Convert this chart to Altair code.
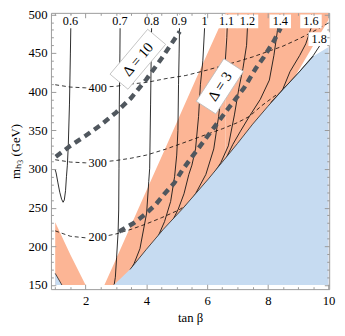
import altair as alt
import pandas as pd

FONT = "Liberation Serif"
PINK = "#FCB595"
BLUE = "#C6DBF1"
FRAME = "#999999"
DELTA_COLOR = "#50575E"

X_DOMAIN = [0.86, 10.02]
Y_DOMAIN = [144.6, 502.0]
W, H = 285, 283
M_BASE = 150
M_TOP = 502

# ---- tick positions (minor + major) ----
x_ticks = [1.0, 1.5, 2.0, 2.5, 3.0, 3.5, 4.0, 4.5, 5.0, 5.5, 6.0, 6.5, 7.0, 7.5, 8.0, 8.5, 9.0, 9.5, 10.0]
y_ticks = list(range(150, 501, 10))

# ---- excluded (blue) region boundary ----
blue_x = [2.93, 3.46, 4.0, 4.56, 5.2, 5.62, 6.04, 6.5, 7.0, 7.5, 8.0, 8.5, 9.0, 9.5, 10.0]
blue_m = [150, 170, 196, 222, 249, 268, 287, 309, 333, 358, 381, 403, 424, 446, 458]
blue_small_x = [1.0, 1.22]
blue_small_m = [165, 150]

# ---- allowed (salmon) band: upper-left edge (rises to the top at tan b = 6.61) ----
pink_x = [2.62, 2.93, 3.46, 4.0, 4.56, 5.2, 5.62, 6.04, 6.5, 6.61]
pink_top = [150, 177, 224, 272, 321, 378, 415, 452, 492, 502]
pink_rect_x = [6.61]
pink_rect_x2 = [10.0]
# white wedge between the band and the blue region (top right)
gap_x = [8.9, 9.5, 10.0]
gap_top = [420, 460, 493]
pink_tri_x = [1.0, 1.5, 2.0]
pink_tri_top = [231, 189, 150]

# ---- solid contours (labels at top) ----
solid = {
    "0.6": ([1.52, 1.50, 1.47, 1.43, 1.40, 1.37, 1.34, 1.30, 1.26, 1.21, 1.15, 1.09, 1.03, 1.00],
            [500, 450, 384, 330, 305, 290, 272, 260, 257, 261, 270, 282, 295, 299]),
    "0.7": ([3.14, 3.13, 3.11, 3.10, 3.09, 3.07, 3.02, 2.98, 2.94],
            [500, 450, 384, 301, 247, 218, 185, 160, 150]),
    "0.8": ([4.18, 4.17, 4.14, 4.11, 4.08, 4.01, 3.79, 3.60, 3.45],
            [500, 475, 384, 301, 284, 243, 197, 178, 167]),
    "0.9": ([5.10, 5.08, 5.06, 5.04, 5.00, 4.93, 4.80, 4.60, 4.40, 4.22],
            [500, 450, 409, 350, 318, 290, 258, 232, 214, 203]),
    "1": ([5.94, 5.92, 5.86, 5.78, 5.72, 5.62, 5.50, 5.40, 5.24, 5.05, 4.85],
          [500, 484, 440, 409, 368, 326, 305, 293, 268, 248, 232]),
    "1.1": ([6.68, 6.65, 6.60, 6.50, 6.38, 6.22, 5.96, 5.62, 5.45],
            [500, 470, 440, 409, 368, 326, 293, 268, 258]),
    "1.2": ([7.35, 7.30, 7.18, 7.05, 6.90, 6.70, 6.45, 6.15],
            [500, 460, 430, 405, 370, 330, 308, 290]),
    "1.4": ([8.40, 8.32, 8.20, 8.05, 7.75, 7.39, 7.10, 6.85, 6.60],
            [500, 480, 447, 415, 390, 368, 349, 332, 312]),
    "1.6": ([9.44, 9.42, 9.25, 9.05, 8.73, 8.48, 8.30],
            [500, 482, 462, 447, 426, 402, 392]),
    "1.8": ([10.0, 9.75, 9.5, 9.0, 8.5, 8.1],
            [472, 462, 447, 424, 403, 386]),
}
solid_label_text = ["0.6", "0.7", "0.8", "0.9", "1.1", "1.2", "1.4", "1.6", "1.8"]
solid_label_x = [1.50, 3.13, 4.17, 5.08, 6.64, 7.33, 8.41, 9.42, 9.69]
solid_label_m = [491, 491, 491, 491, 491, 491, 491, 491, 468]
one_label_x = [5.92]
one_label_m = [491]

# ---- dashed contours ----
dashed = {
    "400": ([1.0, 1.5, 2.0, 2.5, 3.0, 3.5, 4.0, 4.65, 5.3, 6.0, 7.0, 7.5, 8.0, 8.5, 9.0, 9.5, 10.0],
            [409, 406, 405, 406, 407, 410, 412, 417, 421, 428, 439, 445, 452, 459, 468, 478, 489]),
    "300": ([1.0, 1.5, 2.0, 2.5, 3.0, 3.5, 4.0, 4.66, 5.3, 6.0, 6.5, 7.0, 7.39, 7.8, 8.35],
            [312, 309, 308, 309, 311, 314, 318, 326, 335, 345, 352, 360, 368, 382, 398]),
    "200": ([1.0, 1.5, 2.0, 2.5, 3.0, 3.5, 4.0, 4.5, 5.07, 5.5, 5.95],
            [220, 213, 211, 212, 216, 222, 229, 237, 247, 258, 280]),
}
dashed_label_text = ["400", "300", "200"]
dashed_label_x = [2.40, 2.40, 2.40]
dashed_label_m = [405, 308, 212]

# ---- Delta curves ----
delta = {
    "10": ([1.02, 1.5, 2.0, 2.5, 3.0, 3.5, 4.0, 4.5, 5.1],
           [316, 330, 343, 357, 373, 392, 416, 443, 478]),
    "3": ([3.10, 3.58, 3.95, 4.33, 4.60, 4.92, 5.19, 5.51, 6.10, 6.69, 7.22, 7.60, 7.87, 8.19, 8.42],
          [219, 230, 241, 255, 268, 282, 299, 316, 347, 378, 405, 430, 445, 465, 482]),
}
d10_label = {"x": [3.72], "m": [442], "t": ["Δ = 10"]}
d3_label = {"x": [6.42], "m": [407], "t": ["Δ = 3"]}


def long_df(d):
    rows = []
    for name, (xs, ms) in d.items():
        for i, (a, b) in enumerate(zip(xs, ms)):
            rows.append({"name": name, "i": i, "x": a, "m": b})
    return pd.DataFrame(rows)


xaxis = alt.Axis(
    values=x_ticks, title="tan β",
    labelExpr="datum.value % 2 === 0 ? format(datum.value, 'd') : ''",
    labelOverlap=False, labelFlush=False,
    ticks=False, domain=False,
    grid=True, gridColor=FRAME, gridWidth=1, gridOpacity=1,
    gridDash={"condition": {"test": "datum.value % 2 === 0", "value": [5, H - 10, 5, 3000]},
              "value": [2.5, H - 5, 2.5, 3000]},
    labelFont=FONT, labelFontSize=13, labelColor="black", labelPadding=6,
    titleFont=FONT, titleFontSize=13, titleFontWeight="normal", titleColor="black", titlePadding=4,
    zindex=1)
yaxis = alt.Axis(
    values=y_ticks, title="mₕ₃ (GeV)",
    labelExpr="datum.value % 50 === 0 ? format(datum.value, 'd') : ''",
    labelOverlap=False, labelFlush=False,
    ticks=False, domain=False,
    grid=True, gridColor=FRAME, gridWidth=1, gridOpacity=1,
    gridDash={"condition": {"test": "datum.value % 50 === 0", "value": [5, W - 10, 5, 3000]},
              "value": [2.5, W - 5, 2.5, 3000]},
    labelFont=FONT, labelFontSize=13, labelColor="black", labelPadding=4,
    titleFont=FONT, titleFontSize=13, titleFontWeight="normal", titleColor="black", titlePadding=6,
    zindex=1)

X = alt.X("x:Q", scale=alt.Scale(domain=X_DOMAIN, nice=False, zero=False), axis=xaxis)
Y = alt.Y("m:Q", scale=alt.Scale(domain=Y_DOMAIN, nice=False, zero=False), axis=yaxis)


def area(xs, tops, color):
    df = pd.DataFrame({"x": xs, "m": tops, "m2": [M_BASE] * len(xs)})
    return alt.Chart(df).mark_area(color=color, opacity=1, clip=True, orient="vertical").encode(
        x=X, y=Y, y2="m2:Q")


pink = area(pink_x, pink_top, PINK)
pink_rect = alt.Chart(pd.DataFrame({"x": pink_rect_x, "x2": pink_rect_x2,
                                    "m": [M_BASE], "m2": [M_TOP]})).mark_rect(
    color=PINK, opacity=1, clip=True).encode(x=X, x2="x2:Q", y=Y, y2="m2:Q")
gap = area(gap_x, gap_top, "white")
pink_tri = area(pink_tri_x, pink_tri_top, PINK)
blue = area(blue_x, blue_m, BLUE)
blue_small = area(blue_small_x, blue_small_m, BLUE)

dashed_lines = alt.Chart(long_df(dashed)).mark_line(
    color="black", strokeWidth=0.8, strokeDash=[4, 3], clip=True
).encode(x=X, y=Y, detail="name:N", order="i:Q")

solid_lines = alt.Chart(long_df(solid)).mark_line(
    color="#111111", strokeWidth=0.9, clip=True
).encode(x=X, y=Y, detail="name:N", order="i:Q")

edge_df = pd.DataFrame({"x": blue_x[1:-1], "m": blue_m[1:-1]})
edge = alt.Chart(edge_df).mark_line(color="#222222", strokeWidth=0.8, clip=True).encode(x=X, y=Y)
edge_small = alt.Chart(pd.DataFrame({"x": blue_small_x, "m": blue_small_m})).mark_line(
    color="#222222", strokeWidth=0.8, clip=True).encode(x=X, y=Y)

delta_lines = alt.Chart(long_df(delta)).mark_line(
    color=DELTA_COLOR, strokeWidth=4.5, strokeDash=[7, 5], clip=True
).encode(x=X, y=Y, detail="name:N", order="i:Q")

BOX = "M -1 -0.64 L 1 -0.64 L 1 0.64 L -1 0.64 Z"
SQ = "M -1 -1 L 1 -1 L 1 1 L -1 1 Z"
DBOX10 = "M -1 -0.4 L 1 -0.4 L 1 0.4 L -1 0.4 Z"
DBOX3 = "M -1 -0.46 L 1 -0.46 L 1 0.46 L -1 0.46 Z"

sl_df = pd.DataFrame({"x": solid_label_x, "m": solid_label_m, "t": solid_label_text})
one_df = pd.DataFrame({"x": one_label_x, "m": one_label_m, "t": ["1"]})
dl_df = pd.DataFrame({"x": dashed_label_x, "m": dashed_label_m, "t": dashed_label_text})

sl_box = alt.Chart(sl_df).mark_point(shape=BOX, size=484, filled=True, fill="white",
                                      strokeWidth=0, opacity=1).encode(x=X, y=Y)
one_box = alt.Chart(one_df).mark_point(shape=SQ, size=196, filled=True, fill="white",
                                        strokeWidth=0, opacity=1).encode(x=X, y=Y)
dl_box = alt.Chart(dl_df).mark_point(shape=BOX, size=400, filled=True, fill="white",
                                      strokeWidth=0, opacity=1).encode(x=X, y=Y)
labels_text = alt.Chart(pd.concat([sl_df, one_df, dl_df])).mark_text(
    font=FONT, fontSize=12.5, color="black", align="center", baseline="middle"
).encode(x=X, y=Y, text="t:N")

d10_df = pd.DataFrame(d10_label)
d3_df = pd.DataFrame(d3_label)
d10_box = alt.Chart(d10_df).mark_point(shape=DBOX10, size=3600, angle=310, filled=True, fill="white",
                                        stroke="#BBBBBB", strokeWidth=0.8, opacity=1).encode(x=X, y=Y)
d3_box = alt.Chart(d3_df).mark_point(shape=DBOX3, size=2704, angle=303, filled=True, fill="white",
                                      stroke="#BBBBBB", strokeWidth=0.8, opacity=1).encode(x=X, y=Y)
d10_text = alt.Chart(d10_df).mark_text(font=FONT, fontSize=15, angle=310, color="black",
                                        align="center", baseline="middle").encode(x=X, y=Y, text="t:N")
d3_text = alt.Chart(d3_df).mark_text(font=FONT, fontSize=15, angle=303, color="black",
                                      align="center", baseline="middle").encode(x=X, y=Y, text="t:N")

chart = alt.layer(
    pink, pink_rect, gap, pink_tri, dashed_lines, solid_lines, blue, blue_small, edge, edge_small,
    delta_lines, sl_box, one_box, dl_box, labels_text, d10_box, d3_box, d10_text, d3_text
).properties(
    width=W, height=H,
    padding={"left": 44, "top": 1, "right": 8, "bottom": 44},
    autosize=alt.AutoSizeParams(type="none"),
    background="white",
).configure_view(stroke=FRAME, strokeWidth=1)

chart.save("out.html", embed_options={"renderer": "svg", "actions": False})
